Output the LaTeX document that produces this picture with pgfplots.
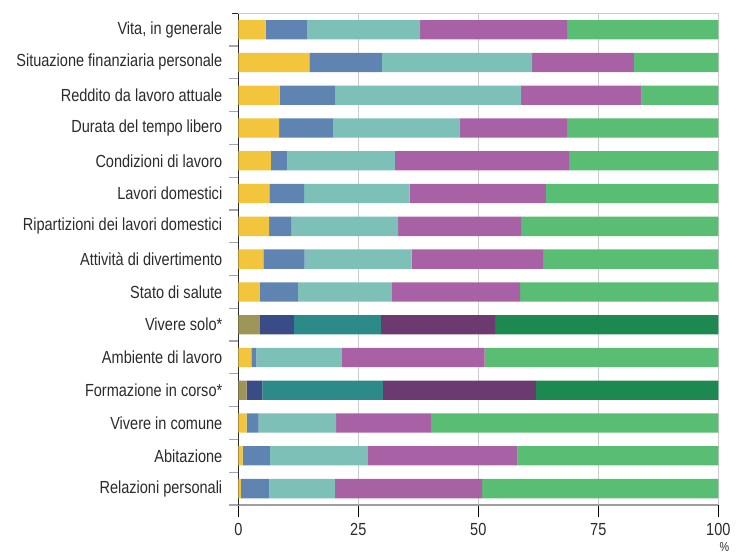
\documentclass[border=0pt]{standalone}
\usepackage{fontspec}
\setmainfont[FakeStretch=0.83]{Liberation Sans}
\usepackage{pgfplots}
\pgfplotsset{compat=1.18}
\usepackage{pgfplotstable}

\definecolor{cYel}{HTML}{F2C53D}
\definecolor{cBlu}{HTML}{5F84B1}
\definecolor{cTea}{HTML}{7DC0B7}
\definecolor{cPur}{HTML}{A961A6}
\definecolor{cGre}{HTML}{59BD73}
\definecolor{dYel}{HTML}{9E9658}
\definecolor{dBlu}{HTML}{3A4C88}
\definecolor{dTea}{HTML}{2C8A88}
\definecolor{dPur}{HTML}{6B3A70}
\definecolor{dGre}{HTML}{1B8950}
\definecolor{txt}{HTML}{2B2B2B}

% rows from bottom (pos 0) to top (pos 14); capital columns = rows marked *
\pgfplotstableread{
name pos a A b B c C d D e E
{Relazioni personali} 0 0.55 0 5.9 0 13.65 0 30.7 0 49.2 0
{Abitazione} 1 0.9 0 5.7 0 20.4 0 31.2 0 41.8 0
{Vivere in comune} 2 1.75 0 2.5 0 16.15 0 19.7 0 59.9 0
{Formazione in corso*} 3 0 1.75 0 3.25 0 25.1 0 31.9 0 38.0
{Ambiente di lavoro} 4 2.7 0 1.05 0 17.75 0 29.8 0 48.7 0
{Vivere solo*} 5 0 4.5 0 7.1 0 18.1 0 23.8 0 46.5
{Stato di salute} 6 4.5 0 7.9 0 19.6 0 26.7 0 41.3 0
{Attività di divertimento} 7 5.2 0 8.6 0 22.3 0 27.4 0 36.5 0
{Ripartizioni dei lavori domestici} 8 6.4 0 4.6 0 22.3 0 25.6 0 41.1 0
{Lavori domestici} 9 6.5 0 7.2 0 22.0 0 28.4 0 35.9 0
{Condizioni di lavoro} 10 6.8 0 3.4 0 22.4 0 36.3 0 31.1 0
{Durata del tempo libero} 11 8.5 0 11.2 0 26.5 0 22.3 0 31.5 0
{Reddito da lavoro attuale} 12 8.6 0 11.5 0 38.8 0 25.1 0 16.0 0
{Situazione finanziaria personale} 13 14.8 0 15.1 0 31.3 0 21.2 0 17.6 0
{Vita, in generale} 14 5.7 0 8.6 0 23.6 0 30.6 0 31.5 0
}\data

\begin{document}
\fontsize{17.5}{20}\selectfont
\begin{tikzpicture}
\begin{axis}[
    scale only axis,
    width=480pt, height=491.7pt,
    xbar stacked, bar width=19.3pt,
    xmin=0, xmax=100, ymin=-0.5, ymax=14.5,
    axis x line*=bottom, axis y line*=left,
    x axis line style={-, draw=gray!75, line width=1.8pt},
    y axis line style={-, draw=txt, line width=1.3pt},
    xtick={0,25,50,75,100},
    ytick={0,...,14},
    yticklabels from table={\data}{name},
    tick align=outside,
    major tick length=12pt,
    xtick style={draw=black, line width=0.9pt},
    ytick style={draw=none},
    xmajorgrids, major grid style={draw=gray!40, line width=1.2pt},
    yticklabel style={xshift=2pt, text=txt},
    xticklabel style={text=txt},
    /pgf/number format/assume math mode=true,
    every axis plot/.append style={draw=none},
    clip=false,
]
\addplot[fill=cYel] table[x=a, y=pos] {\data};
\addplot[fill=dYel] table[x=A, y=pos] {\data};
\addplot[fill=cBlu] table[x=b, y=pos] {\data};
\addplot[fill=dBlu] table[x=B, y=pos] {\data};
\addplot[fill=cTea] table[x=c, y=pos] {\data};
\addplot[fill=dTea] table[x=C, y=pos] {\data};
\addplot[fill=cPur] table[x=d, y=pos] {\data};
\addplot[fill=dPur] table[x=D, y=pos] {\data};
\addplot[fill=cGre] table[x=e, y=pos] {\data};
\addplot[fill=dGre] table[x=E, y=pos] {\data};
\draw[gray!40, line width=1.2pt] (rel axis cs:0,1) -- (rel axis cs:1,1);
\pgfplotsinvokeforeach{-0.5,0.5,1.5,2.5,3.5,4.5,5.5,6.5,7.5,8.5,9.5,10.5,11.5,12.5,13.5}{
  \draw[gray!70, line width=1.2pt] ([xshift=-9pt]axis cs:0,#1) -- (axis cs:0,#1);
}
\draw[txt, line width=1.2pt] ([xshift=-6pt]axis cs:0,14.5) -- (axis cs:0,14.5);
\node[text=txt, inner sep=0pt, font=\fontsize{13}{14}\selectfont] at ([xshift=6pt, yshift=-42pt]axis cs:100,-0.5) {\%};
\end{axis}
\pgfresetboundingbox
\useasboundingbox (-238.3pt,-49pt) rectangle (497.7pt,505pt);
\end{tikzpicture}
\end{document}
